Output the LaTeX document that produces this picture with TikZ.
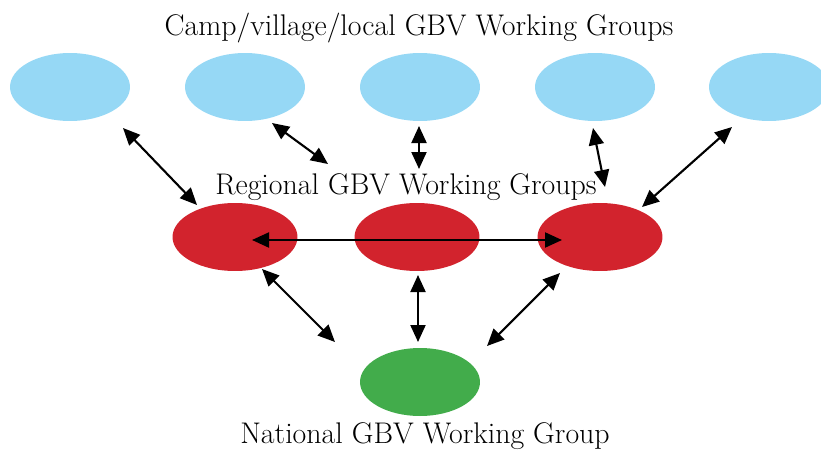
\documentclass[tikz,border=0pt]{standalone}
\usetikzlibrary{positioning,shapes.geometric,arrows.meta}
\definecolor{campblue}{RGB}{150,216,245}
\definecolor{regred}{RGB}{210,35,45}
\definecolor{natgreen}{RGB}{66,172,75}

\begin{document}
\begin{tikzpicture}[x=0.02cm, y=-0.02cm, thick,
    main/.style = {ellipse, minimum width=2.4cm, minimum height=1.36cm, inner sep=0pt},
    link/.style = {{Triangle[length=3.4mm,width=3mm]}-{Triangle[length=3.4mm,width=3mm]}, line width=1.2pt},
    label/.style = {font=\fontsize{17}{20}\selectfont}
    ]
\useasboundingbox (0,0) rectangle (821,450);

% camp level
\node[main, fill=campblue] (0) at (70,87)  {};
\node[main, fill=campblue] (1) at (245,87) {};
\node[main, fill=campblue] (2) at (420,87) {};
\node[main, fill=campblue] (3) at (595,87) {};
\node[main, fill=campblue] (4) at (769,87) {};

% regional level
\node[main, fill=regred, minimum width=2.5cm] (5) at (235,237) {};
\node[main, fill=regred, minimum width=2.5cm] (6) at (417,237) {};
\node[main, fill=regred, minimum width=2.5cm] (7) at (600,237) {};

% national level
\node[main, fill=natgreen] (8) at (420,382) {};

\node[label] (t0) at (419,28)  {Camp/village/local GBV Working Groups};
\node[label] (t1) at (406,187) {Regional GBV Working Groups};
\node[label] (t2) at (425,436) {National GBV Working Group};

% arrow ends
\coordinate (a0) at (123,128); \coordinate (b0) at (197,205);
\coordinate (a1) at (272,123); \coordinate (b1) at (328,164);
\coordinate (a2) at (419,126); \coordinate (b2) at (419,169);
\coordinate (a3) at (593,128); \coordinate (b3) at (605,187);
\coordinate (a4) at (732,127); \coordinate (b4) at (642,207);
\coordinate (a5) at (252,240); \coordinate (b5) at (562,240);
\coordinate (a6) at (262,269); \coordinate (b6) at (335,342);
\coordinate (a7) at (418,275); \coordinate (b7) at (418,342);
\coordinate (a8) at (560,273); \coordinate (b8) at (487,346);

\draw[link] (a0) -- (b0);
\draw[link] (a1) -- (b1);
\draw[link] (a2) -- (b2);
\draw[link] (a3) -- (b3);
\draw[link] (a4) -- (b4);
\draw[link] (a5) -- (b5);
\draw[link] (a6) -- (b6);
\draw[link] (a7) -- (b7);
\draw[link] (a8) -- (b8);

\end{tikzpicture}
\end{document}
